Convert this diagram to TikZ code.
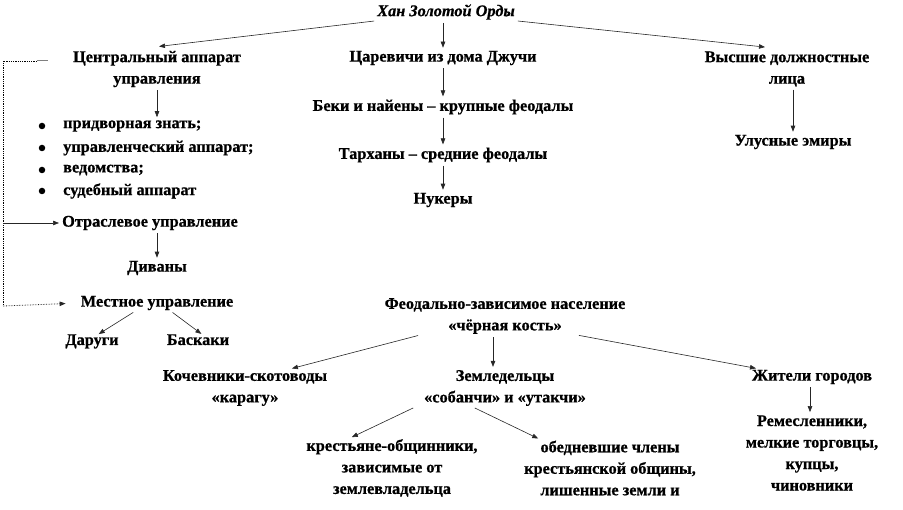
\documentclass[tikz,border=0pt]{standalone}
\usepackage{fontspec}
\setmainfont{Liberation Serif}[BoldFont={Liberation Serif Bold},ItalicFont={Liberation Serif Italic},BoldItalicFont={Liberation Serif Bold Italic},BoldFeatures={FakeBold=0.8},BoldItalicFeatures={FakeBold=0.8}]
\usetikzlibrary{arrows.meta,positioning}
\tikzset{
  lbl/.style  ={font=\bfseries\fontsize{16.3}{21.5}\selectfont,align=center,inner sep=1pt},
  item/.style ={lbl,anchor=west},
  bul/.style  ={circle,fill=black,minimum size=6.5pt,inner sep=0pt},
  arr/.style  ={-{Triangle[length=6pt,width=4.5pt]},line width=0.6pt,black!85,shorten >=2pt,shorten <=2pt},
  brk/.style  ={densely dotted,line width=0.8pt},
}
\begin{document}
\begin{tikzpicture}[x=1pt,y=-1pt]
  \useasboundingbox (0,0) rectangle (903,510);
  % top level
  \node[lbl,font=\bfseries\itshape\fontsize{16.3}{21.5}\selectfont] (khan) at (446,12){Хан Золотой Орды};
  \node[lbl] (central) at (157,69){Центральный аппарат\\управления};
  \node[lbl] (tsar) at (443,58){Царевичи из дома Джучи};
  \node[lbl] (vyssh) at (787,69){Высшие должностные\\лица};
  \draw[arr] (khan.south west) -- ([yshift=3pt]central.north);
  \draw[arr] (khan.south -| tsar.north) -- (tsar.north);
  \draw[arr] (khan.south east) -- ([xshift=-20pt,yshift=3pt]vyssh.north);
  % central apparatus
  \foreach \i/\y/\t in {1/126/придворная знать;,2/148/управленческий аппарат;,3/170/ведомства;,4/191/судебный аппарат}{
     \node[bul] (dot\i) at (42,\y){};
     \node[item] (it\i) at (62,\y){\t};
  }
  \draw[arr] (central.south) -- (central.south |- it1.north);
  \node[item] (otrasl) at (61,223){Отраслевое управление};
  \node[lbl] (divany) at (157,268){Диваны};
  \draw[arr] (divany.north |- otrasl.south) -- (divany.north);
  \node[lbl] (mest) at (157,303){Местное управление};
  \node[lbl,anchor=base] (darugi) at (92,345){Даруги};
  \node[lbl,anchor=base] (baskaki) at (198,345){Баскаки};
  \draw[arr] ([xshift=-22pt]mest.south) -- ([xshift=5pt,yshift=-2pt]darugi.north);
  \draw[arr] ([xshift=14pt]mest.south) -- ([xshift=5pt,yshift=-2pt]baskaki.north);
  % left bracket
  \coordinate (btop) at (3,61);
  \coordinate (bbot) at (3,306);
  \coordinate (tick1) at (37,61);
  \coordinate (tick2) at (48,61);
  \draw[brk] (tick1) -- (btop) -- (bbot);
  \draw[gray,line width=1pt] (tick1) -- (tick2);
  \draw[arr,shorten <=0pt] (btop |- otrasl.west) -- (otrasl.west);
  \draw[arr,brk,shorten <=0pt,shorten >=14pt] (bbot) -- (mest.west);
  % tsarevichi branch
  \node[lbl] (beki) at (443,107){Беки и найены -- крупные феодалы};
  \node[lbl] (tarkh) at (443,155){Тарханы -- средние феодалы};
  \node[lbl] (nuker) at (443,200){Нукеры};
  \draw[arr] (tsar) -- (beki);
  \draw[arr] (beki) -- (tarkh);
  \draw[arr] (tarkh) -- (nuker);
  % officials
  \node[lbl] (ulus) at (793,142){Улусные эмиры};
  \draw[arr] (ulus.north |- vyssh.south) -- (ulus.north);
  % dependent population
  \node[lbl] (feod) at (505,316){Феодально-зависимое население\\«чёрная кость»};
  \node[lbl] (kochev) at (245,388){Кочевники-скотоводы\\«карагу»};
  \node[lbl] (zeml) at (505,388){Земледельцы\\«собанчи» и «утакчи»};
  \node[lbl] (zhit) at (812,377){Жители городов};
  \node[lbl] (remes) at (812,453){Ремесленники,\\мелкие торговцы,\\купцы,\\чиновники};
  \draw[arr] ([xshift=-85pt]feod.south) -- ([xshift=45pt]kochev.north);
  \draw[arr] ([xshift=-12pt]feod.south) -- ([xshift=-12pt]zeml.north);
  \draw[arr] ([xshift=72pt]feod.south) -- ([xshift=-54pt]zhit.north);
  \draw[arr] ([xshift=-2pt]zhit.south) -- ([xshift=-2pt]remes.north);
  \node[lbl] (krest) at (392,468){крестьяне-общинники,\\зависимые от\\землевладельца};
  \node[lbl] (obedn) at (610,468){обедневшие члены\\крестьянской общины,\\лишенные земли и};
  \draw[arr] ([xshift=-90pt]zeml.south) -- ([xshift=-42pt]krest.north);
  \draw[arr] ([xshift=-32pt]zeml.south) -- ([xshift=-70pt]obedn.north);
\end{tikzpicture}
\end{document}
